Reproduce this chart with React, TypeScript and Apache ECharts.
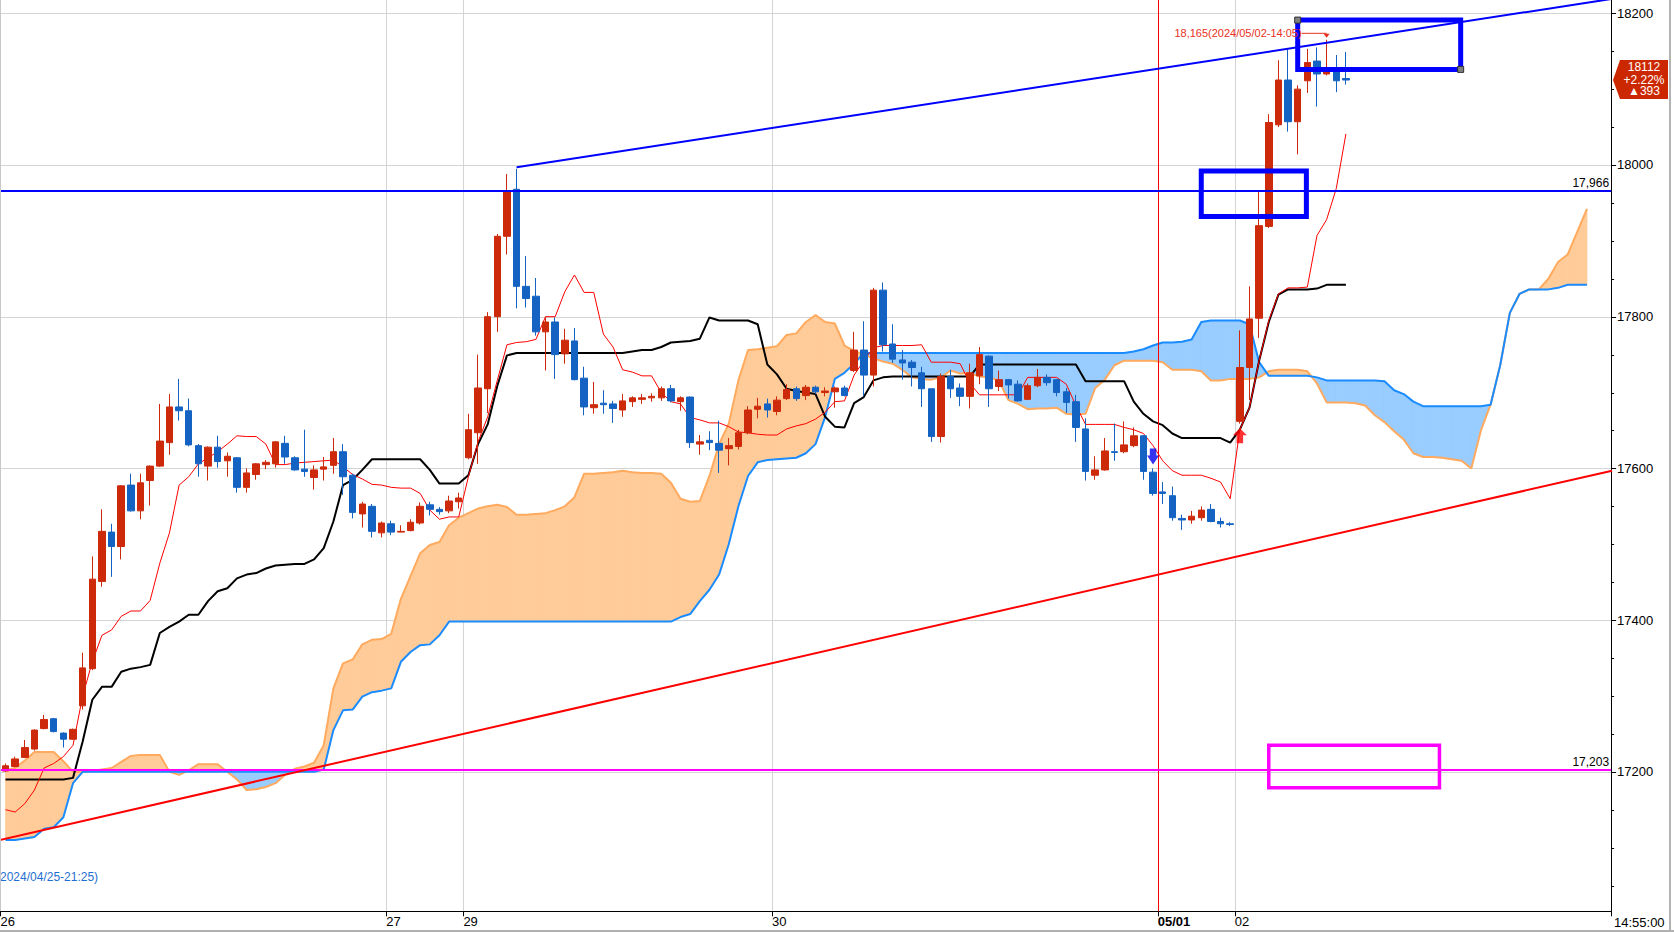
import React, { useEffect, useRef } from "react";
import * as echarts from "echarts";

// ---------------- data ----------------
const opens = [
  17201,17207,17219,17230,17257,17270,17251,17243,17287,17336,
  17451,17516,17497,17578,17544,17584,17603,17634,17681,17676,
  17630,17603,17628,17610,17614,17575,17592,17605,17606,17633,
  17614,17599,17588,17599,17604,17622,17591,17540,17550,17515,
  17527,17516,17518,17528,17552,17546,17544,17556,17614,17647,
  17705,17800,17906,17968,17840,17827,17780,17793,17751,17768,
  17719,17680,17686,17685,17677,17688,17691,17693,17693,17705,
  17688,17694,17632,17637,17633,17626,17629,17647,17678,17685,
  17675,17692,17705,17696,17707,17700,17701,17706,17729,17756,
  17723,17835,17764,17743,17740,17726,17705,17642,17721,17706,
  17695,17722,17748,17708,17717,17711,17691,17709,17720,17717,
  17701,17688,17652,17591,17598,17622,17622,17630,17643,17595,
  17569,17564,17534,17532,17535,17546,17530,17527,17662,17733,
  17798,17919,18053,18112,18057,18111,18137,18120,18124,18114,
];
const closes = [
  17208,17217,17232,17255,17269,17253,17243,17256,17337,17454,
  17517,17497,17577,17544,17581,17603,17636,17681,17676,17631,
  17606,17628,17609,17616,17575,17594,17606,17608,17635,17615,
  17598,17596,17598,17602,17622,17589,17542,17553,17517,17528,
  17516,17517,17529,17550,17546,17543,17557,17561,17651,17706,
  17800,17906,17966,17840,17824,17780,17793,17750,17769,17717,
  17681,17684,17684,17679,17689,17693,17693,17695,17705,17689,
  17693,17634,17635,17634,17624,17630,17647,17677,17682,17677,
  17690,17704,17692,17707,17701,17702,17706,17696,17756,17723,
  17835,17763,17744,17739,17733,17705,17642,17721,17705,17695,
  17726,17750,17705,17717,17710,17689,17709,17720,17713,17700,
  17687,17654,17596,17598,17623,17621,17631,17643,17596,17567,
  17567,17535,17532,17537,17545,17530,17527,17526,17733,17797,
  17920,18056,18112,18057,18100,18135,18120,18124,18111,18112,
];
const lows = [
  17200,17206,17218,17228,17256,17252,17232,17242,17282,17334,
  17444,17457,17480,17543,17533,17551,17602,17618,17663,17629,
  17589,17584,17601,17589,17568,17568,17585,17599,17601,17606,
  17597,17589,17572,17584,17593,17565,17534,17522,17509,17509,
  17512,17516,17517,17526,17538,17539,17541,17547,17612,17606,
  17673,17780,17882,17811,17812,17775,17729,17718,17738,17716,
  17670,17672,17672,17660,17668,17681,17685,17688,17689,17687,
  17676,17627,17618,17624,17594,17604,17625,17645,17666,17667,
  17670,17690,17689,17690,17698,17695,17680,17695,17727,17695,
  17708,17754,17739,17717,17708,17681,17635,17634,17693,17682,
  17679,17711,17681,17702,17692,17688,17690,17707,17709,17695,
  17673,17635,17584,17585,17597,17610,17620,17628,17585,17564,
  17553,17531,17519,17527,17531,17529,17522,17524,17659,17690,
  17772,17917,18050,18044,18014,18095,18077,18118,18096,18106,
];
const highs = [
  17211,17220,17242,17256,17275,17271,17252,17257,17357,17484,
  17546,17527,17578,17593,17593,17604,17685,17698,17718,17692,
  17632,17629,17643,17621,17615,17600,17607,17611,17636,17643,
  17616,17651,17604,17615,17640,17632,17593,17556,17553,17530,
  17531,17525,17533,17555,17556,17549,17564,17568,17672,17750,
  17806,17909,17988,17995,17880,17851,17800,17799,17784,17785,
  17734,17714,17703,17689,17698,17695,17698,17699,17708,17710,
  17695,17695,17644,17649,17663,17640,17651,17682,17693,17692,
  17695,17711,17708,17710,17709,17707,17708,17709,17780,17794,
  17838,17845,17790,17756,17743,17734,17705,17725,17730,17712,
  17738,17760,17749,17729,17718,17716,17712,17731,17724,17718,
  17706,17697,17666,17616,17640,17659,17662,17654,17644,17600,
  17582,17576,17539,17544,17550,17553,17535,17529,17782,17840,
  17965,18067,18138,18153,18105,18153,18155,18165,18145,18149,
];
const tenkan = [
  17150,17147,17158,17176,17205,17211,17220,17235,17300,17345,
  17380,17387,17405,17412,17412,17426,17475,17515,17578,17589,
  17606,17614,17622,17632,17643,17642,17642,17632,17605,17605,
  17607,17608,17609,17610,17611,17602,17592,17586,17579,17578,
  17575,17574,17574,17567,17545,17533,17536,17536,17589,17635,
  17668,17716,17763,17766,17767,17770,17800,17800,17833,17855,
  17832,17832,17777,17760,17730,17727,17722,17722,17700,17688,
  17685,17667,17664,17660,17660,17655,17648,17647,17645,17644,
  17644,17652,17656,17659,17665,17674,17688,17689,17723,17742,
  17759,17762,17762,17762,17762,17763,17740,17740,17740,17738,
  17712,17697,17697,17697,17697,17697,17720,17720,17720,17720,
  17711,17683,17658,17658,17658,17658,17654,17651,17646,17630,
  17610,17597,17591,17591,17591,17587,17582,17560,17651,17680,
  17742,17795,17830,17838,17838,17839,17907,17928,17969,18041,
];
const kijun = [
  17190,17190,17190,17190,17190,17190,17190,17192,17240,17295,
  17312,17312,17332,17336,17338,17341,17383,17391,17398,17407,
  17407,17425,17438,17442,17455,17460,17462,17468,17472,17473,
  17474,17474,17480,17495,17530,17578,17585,17598,17612,17612,
  17612,17612,17612,17612,17598,17580,17580,17580,17591,17632,
  17658,17709,17749,17752,17752,17752,17752,17752,17752,17752,
  17752,17752,17752,17752,17752,17754,17756,17756,17760,17766,
  17767,17768,17771,17799,17795,17795,17795,17795,17790,17737,
  17724,17705,17702,17700,17698,17668,17655,17654,17686,17694,
  17716,17720,17721,17721,17721,17721,17721,17721,17721,17721,
  17721,17737,17737,17737,17737,17737,17737,17737,17737,17737,
  17737,17737,17715,17715,17715,17715,17715,17688,17672,17662,
  17657,17646,17640,17640,17640,17640,17640,17634,17651,17680,
  17742,17793,17829,17836,17836,17836,17837,17842,17842,17842,
];
const senkouA = [
  17202,17205,17215,17226,17226,17226,17214,17200,17200,17201,
  17203,17205,17213,17221,17222,17222,17222,17200,17196,17202,
  17210,17210,17210,17200,17190,17176,17177,17180,17185,17196,
  17204,17207,17212,17235,17310,17343,17348,17368,17374,17375,
  17382,17428,17458,17488,17499,17503,17525,17535,17541,17547,
  17550,17552,17549,17539,17539,17540,17541,17545,17550,17562,
  17593,17593,17594,17595,17597,17595,17594,17594,17593,17581,
  17560,17556,17557,17590,17632,17659,17716,17756,17757,17759,
  17761,17776,17778,17793,17802,17793,17791,17762,17755,17750,
  17745,17741,17738,17730,17720,17718,17717,17720,17729,17725,
  17726,17721,17720,17716,17690,17685,17678,17679,17679,17680,
  17672,17671,17672,17706,17717,17736,17742,17742,17742,17742,
  17740,17730,17730,17730,17728,17716,17716,17718,17718,17718,
  17720,17728,17730,17730,17730,17728,17712,17687,17687,17687,
  17686,17683,17670,17661,17649,17638,17620,17615,17615,17614,
  17612,17610,17600,17650,17684,17736,17805,17830,17836,17836,
  17850,17872,17882,17912,17942,
];
const senkouB = [
  17110,17110,17112,17114,17125,17127,17140,17185,17200,17200,
  17200,17200,17200,17200,17200,17200,17200,17200,17200,17200,
  17200,17200,17200,17200,17200,17200,17200,17200,17200,17200,
  17200,17200,17200,17203,17255,17281,17282,17299,17305,17307,
  17310,17345,17358,17367,17368,17380,17398,17398,17398,17398,
  17398,17398,17398,17398,17398,17398,17398,17398,17398,17398,
  17398,17398,17398,17398,17398,17398,17398,17398,17398,17398,
  17404,17408,17425,17440,17460,17500,17550,17590,17608,17611,
  17612,17613,17614,17620,17632,17668,17718,17726,17738,17752,
  17752,17752,17752,17752,17752,17752,17752,17752,17752,17752,
  17752,17752,17752,17752,17752,17752,17752,17752,17752,17752,
  17752,17752,17752,17752,17752,17752,17752,17754,17757,17762,
  17766,17766,17767,17770,17793,17795,17795,17795,17795,17790,
  17740,17722,17722,17722,17722,17722,17720,17716,17716,17716,
  17716,17716,17716,17715,17703,17698,17688,17682,17682,17682,
  17682,17682,17682,17682,17684,17736,17805,17830,17836,17836,
  17836,17838,17842,17842,17842,
];

const CATEGORY_COUNT = 167;
const dateTickIndex = [0, 40, 48, 80, 120, 128];
const dateTickText = ["26", "27", "29", "30", "05/01", "02"];
const boldDateIndex = 120;
const priceLabels = [17200, 17400, 17600, 17800, 18000, 18200];
const priceMinorTicks = [
  17050, 17100, 17150, 17200, 17250, 17300, 17350, 17400, 17450, 17500, 17550, 17600,
  17650, 17700, 17750, 17800, 17850, 17900, 17950, 18000, 18050, 18100, 18150, 18200,
];
const levelValues = [17966, 17203];
const levelLabels = ["17,966", "17,203"];
const levelColors = ["#0000ff", "#ff00ff"];
const blueTrend = [[53, 17997], [166.6, 18219]];
const redTrend = [[-0.6, 17110], [166.6, 17597]];
const boxes = [
  [134.0, 18191, 150.9, 18126],
  [124.0, 17992, 134.9, 17932],
  [131.0, 17235, 148.7, 17179],
];
const boxColors = ["#0000ff", "#0000ff", "#ff00ff"];
const boxHandles = [true, false, false];
const sessionLineBar = 119.5;
const sellSignalBar = 119;
const buySignalBar = 128;
const lastBar = 139;
const lastChangePct = "+2.22%";
const lastChangePts = "▲393";
const highMarkBar = 137;
const highMarkText = "18,165(2024/05/02-14:05)";
const firstBarText = "2024/04/25-21:25)";
const clockText = "14:55:00";

// ---------------- styles ----------------
const UP = "#cc2a0a";
const DOWN = "#1463c2";
const ORANGE_FILL = "#ffcc99";
const ORANGE_LINE = "#ffaa5e";
const BLUE_FILL = "#99ccff";
const BLUE_LINE = "#1a8cff";
const GRID = "#d4d4d4";
const FONT = "'Liberation Sans Narrow', 'Liberation Sans', Arial, sans-serif";

const categories = Array.from({ length: CATEGORY_COUNT }, (_, i) => String(i));
const candleData = opens.map((o, i) => [o, closes[i], lows[i], highs[i]]);
const cloudData = senkouA.slice(0, -1).map((a, j) => [j, a, senkouB[j], senkouA[j + 1], senkouB[j + 1]]);

const CANDLE_SERIES = 7;

function buildOption(): any {
  return {
    animation: false,
    backgroundColor: "#ffffff",
    grid: { left: 0.7, right: 62.9, top: 0, bottom: 20.7, outerBoundsMode: "none", containLabel: false },
    xAxis: [
      {
        type: "category",
        data: categories,
        boundaryGap: true,
        axisLine: { show: true, onZero: false, lineStyle: { color: "#000", width: 1 } },
        axisTick: {
          show: true,
          length: 5,
          lineStyle: { color: "#000" },
          interval: (i: number) => dateTickIndex.includes(i),
        },
        axisLabel: {
          show: true,
          interval: (i: number) => dateTickIndex.includes(i),
          align: "left",
          margin: 4,
          padding: [0, 0, 0, -5],
          fontFamily: FONT,
          fontSize: 13,
          color: "#000",
          formatter: (_v: string, i: number) => {
            const k = dateTickIndex.indexOf(i);
            if (k < 0) return "";
            return i === boldDateIndex ? "{b|" + dateTickText[k] + "}" : "{n|" + dateTickText[k] + "}";
          },
          rich: {
            b: { fontWeight: "bold", fontFamily: FONT, fontSize: 13, color: "#000" },
            n: { fontFamily: FONT, fontSize: 13, color: "#000" },
          },
        },
        splitLine: {
          show: true,
          interval: (i: number) => dateTickIndex.includes(i) && i !== boldDateIndex,
          lineStyle: { color: GRID, width: 1 },
        },
      },
      {
        type: "value",
        show: false,
        min: -0.5,
        max: CATEGORY_COUNT - 0.5,
        axisLine: { show: false, onZero: false },
        splitLine: { show: false },
      },
    ],
    yAxis: [
      {
        type: "value",
        position: "right",
        min: 17016.1,
        max: 18217.5,
        axisLine: { show: true, onZero: false, lineStyle: { color: "#000", width: 1 } },
        axisTick: { show: false },
        axisLabel: {
          show: true,
          customValues: priceLabels,
          margin: 6,
          fontFamily: FONT,
          fontSize: 13,
          color: "#000",
          formatter: (v: number) => String(v),
        },
        splitLine: { show: false },
      },
    ],
    series: [
      {
        // horizontal grid lines
        type: "custom",
        xAxisIndex: 1,
        yAxisIndex: 0,
        z: 0,
        silent: true,
        data: priceLabels.map((v) => [0, v]),
        encode: { x: 0, y: 1 },
        renderItem: (params: any, api: any) => {
          const cs = params.coordSys;
          const y = Math.round(api.coord([0, api.value(1)])[1]) + 0.5;
          return {
            type: "line",
            shape: { x1: cs.x, y1: y, x2: cs.x + cs.width, y2: y },
            style: { stroke: GRID, lineWidth: 1 },
          };
        },
      },
      {
        // price-axis ticks (every 50, longer at labelled values)
        type: "custom",
        xAxisIndex: 1,
        yAxisIndex: 0,
        z: 10,
        silent: true,
        clip: false,
        data: priceMinorTicks.map((v) => [0, v]),
        encode: { x: 0, y: 1 },
        renderItem: (params: any, api: any) => {
          const cs = params.coordSys;
          const v = api.value(1);
          const y = Math.round(api.coord([0, v])[1]) + 0.5;
          const x0 = cs.x + cs.width;
          const len = priceLabels.includes(v) ? 5 : 3;
          return {
            type: "line",
            shape: { x1: x0, y1: y, x2: x0 + len, y2: y },
            style: { stroke: "#000", lineWidth: 1 },
          };
        },
      },
      {
        // Ichimoku cloud
        type: "custom",
        xAxisIndex: 1,
        yAxisIndex: 0,
        z: 1,
        silent: true,
        data: cloudData,
        encode: { x: 0, y: [1, 2, 3, 4] },
        renderItem: (_params: any, api: any) => {
          const j = api.value(0);
          const a0 = api.value(1), b0 = api.value(2), a1 = api.value(3), b1 = api.value(4);
          const pA0 = api.coord([j, a0]);
          const pB0 = api.coord([j, b0]);
          const pA1 = api.coord([j + 1, a1]);
          const pB1 = api.coord([j + 1, b1]);
          const d0 = a0 - b0;
          const d1 = a1 - b1;
          const col = (d: number) => (d >= 0 ? ORANGE_FILL : BLUE_FILL);
          const poly = (pts: number[][], c: string) => ({
            type: "polygon",
            shape: { points: pts },
            style: { fill: c, stroke: c, lineWidth: 0.8 },
          });
          if (d0 * d1 < 0) {
            const t = d0 / (d0 - d1);
            const x = pA0[0] + (pA1[0] - pA0[0]) * t;
            const y = pA0[1] + (pA1[1] - pA0[1]) * t;
            return {
              type: "group",
              children: [poly([pA0, [x, y], pB0], col(d0)), poly([[x, y], pA1, pB1], col(d1))],
            };
          }
          return poly([pA0, pA1, pB1, pB0], col(d0 + d1));
        },
      },
      {
        name: "SenkouA",
        type: "line",
        data: senkouA,
        z: 2,
        showSymbol: false,
        symbol: "none",
        silent: true,
        lineStyle: { color: ORANGE_LINE, width: 2 },
      },
      {
        name: "SenkouB",
        type: "line",
        data: senkouB,
        z: 2,
        showSymbol: false,
        symbol: "none",
        silent: true,
        lineStyle: { color: BLUE_LINE, width: 2 },
      },
      {
        name: "Kijun",
        type: "line",
        data: kijun,
        z: 3,
        showSymbol: false,
        symbol: "none",
        silent: true,
        lineStyle: { color: "#000000", width: 2 },
      },
      {
        name: "Tenkan",
        type: "line",
        data: tenkan,
        z: 3,
        showSymbol: false,
        symbol: "none",
        silent: true,
        lineStyle: { color: "#ff0000", width: 1 },
      },
      {
        name: "Price",
        type: "candlestick",
        data: candleData,
        z: 4,
        barWidth: 7,
        silent: true,
        itemStyle: { color: UP, color0: DOWN, borderColor: UP, borderColor0: DOWN, borderWidth: 1 },
      },
      {
        type: "line",
        xAxisIndex: 1,
        data: redTrend,
        z: 5,
        symbol: "none",
        silent: true,
        lineStyle: { color: "#ff0000", width: 2 },
        markLine: {
          silent: true,
          symbol: "none",
          z: 5,
          label: { show: false },
          lineStyle: { color: "#ff0000", width: 1, type: "solid" },
          data: [{ xAxis: sessionLineBar }],
        },
      },
      {
        type: "line",
        xAxisIndex: 1,
        data: blueTrend,
        z: 5,
        symbol: "none",
        silent: true,
        lineStyle: { color: "#0000ff", width: 2 },
        markLine: {
          silent: true,
          symbol: "none",
          z: 5,
          data: levelValues.map((v, i) => ({
            yAxis: v,
            lineStyle: { color: levelColors[i], width: 2, type: "solid" },
            label: {
              show: true,
              position: "insideEndTop",
              formatter: levelLabels[i],
              color: "#000",
              fontFamily: FONT,
              fontSize: 12,
              distance: 2,
            },
          })),
        },
      },
      {
        // drawn rectangles
        type: "custom",
        xAxisIndex: 1,
        yAxisIndex: 0,
        z: 6,
        silent: true,
        data: boxes,
        encode: { x: [0, 2], y: [1, 3] },
        renderItem: (params: any, api: any) => {
          const i = params.dataIndex;
          const p1 = api.coord([api.value(0), api.value(1)]);
          const p2 = api.coord([api.value(2), api.value(3)]);
          const children: any[] = [
            {
              type: "rect",
              shape: {
                x: Math.min(p1[0], p2[0]),
                y: Math.min(p1[1], p2[1]),
                width: Math.abs(p2[0] - p1[0]),
                height: Math.abs(p2[1] - p1[1]),
              },
              style: { fill: "none", stroke: boxColors[i], lineWidth: i === 2 ? 3.5 : 5 },
            },
          ];
          if (boxHandles[i]) {
            [p1, p2].forEach((p) =>
              children.push({
                type: "rect",
                shape: { x: p[0] - 3, y: p[1] - 3, width: 6, height: 6 },
                style: { fill: "#808080", stroke: "#303030", lineWidth: 1 },
              })
            );
          }
          return { type: "group", children };
        },
      },
      {
        type: "scatter",
        xAxisIndex: 1,
        z: 6,
        silent: true,
        data: [[sellSignalBar, highs[sellSignalBar]]],
        symbol: "path://M3,0L10,0L10,7L13,7L6.5,16L0,7L3,7Z",
        symbolSize: [12, 16],
        symbolOffset: [0, -12],
        itemStyle: { color: "#0000ee" },
      },
      {
        type: "scatter",
        xAxisIndex: 1,
        z: 6,
        silent: true,
        data: [[buySignalBar, lows[buySignalBar]]],
        symbol: "path://M7.5,0L15,7L11,7L11,15L4,15L4,7L0,7Z",
        symbolSize: [14, 15],
        symbolOffset: [0, 12],
        itemStyle: { color: "#ff0000" },
      },
    ],
  };
}

export default function App() {
  const ref = useRef<HTMLDivElement>(null);
  useEffect(() => {
    document.body.style.margin = "0";
    const chart = echarts.init(ref.current as HTMLDivElement, null, { renderer: "svg" });
    chart.setOption(buildOption());

    const lastClose = closes[lastBar];
    const pLast = chart.convertToPixel({ seriesIndex: CANDLE_SERIES }, [lastBar, lastClose]) as number[];
    const pHigh = chart.convertToPixel({ seriesIndex: CANDLE_SERIES }, [highMarkBar, highs[highMarkBar]]) as number[];
    const py = pLast[1];
    const hx = pHigh[0];
    const hy = pHigh[1] - 7;
    const W = 1674;
    const H = 932;

    chart.setOption({
      graphic: [
        {
          type: "polygon",
          z: 100,
          shape: { points: [[1613, py], [1620, py - 20], [1668, py - 20], [1668, py + 19], [1620, py + 19]] },
          style: { fill: "#cc2800" },
        },
        {
          type: "text",
          z: 101,
          x: 1644,
          y: py - 13,
          style: { text: String(lastClose), fill: "#fff", font: "12px " + FONT, align: "center", verticalAlign: "middle" },
        },
        {
          type: "text",
          z: 101,
          x: 1644,
          y: py,
          style: { text: lastChangePct, fill: "#fff", font: "12px " + FONT, align: "center", verticalAlign: "middle" },
        },
        {
          type: "text",
          z: 101,
          x: 1644,
          y: py + 11,
          style: { text: lastChangePts, fill: "#fff", font: "12px " + FONT, align: "center", verticalAlign: "middle" },
        },
        {
          type: "text",
          z: 101,
          x: hx - 25,
          y: hy,
          style: { text: highMarkText, fill: "#e8301c", font: "11px " + FONT, align: "right", verticalAlign: "middle" },
        },
        {
          type: "line",
          z: 101,
          shape: { x1: hx - 25, y1: hy + 0.5, x2: hx, y2: hy + 0.5 },
          style: { stroke: "#e8301c", lineWidth: 1 },
        },
        {
          type: "polygon",
          z: 101,
          shape: { points: [[hx - 3, hy + 1], [hx + 3, hy + 1], [hx, hy + 5]] },
          style: { fill: "#e8301c" },
        },
        {
          type: "text",
          z: 101,
          x: 0,
          y: 877,
          style: { text: firstBarText, fill: "#1f6fd0", font: "12px " + FONT, align: "left", verticalAlign: "middle" },
        },
        {
          type: "text",
          z: 101,
          x: 1614,
          y: 922,
          style: { text: clockText, fill: "#000", font: "13px " + FONT, align: "left", verticalAlign: "middle" },
        },
        {
          type: "line",
          z: 101,
          shape: { x1: 0.5, y1: 0, x2: 0.5, y2: 911 },
          style: { stroke: "#c8c8c8", lineWidth: 1 },
        },
        {
          type: "line",
          z: 101,
          shape: { x1: 1670, y1: 0, x2: 1670, y2: H },
          style: { stroke: "#9a9a9a", lineWidth: 1.5 },
        },
        {
          type: "line",
          z: 101,
          shape: { x1: 0, y1: 931, x2: W, y2: 931 },
          style: { stroke: "#b0b0b0", lineWidth: 2 },
        },
      ],
    });
    return () => chart.dispose();
  }, []);
  return <div ref={ref} style={{ position: "fixed", left: 0, top: 0, width: 1674, height: 932 }} />;
}
